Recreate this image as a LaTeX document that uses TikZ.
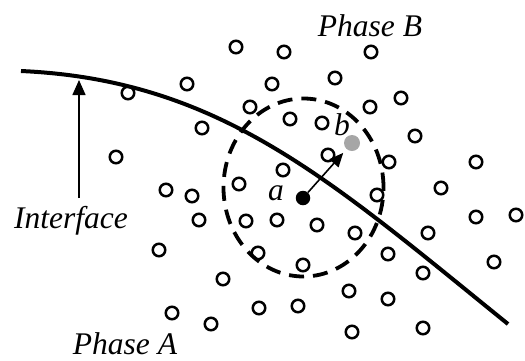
\documentclass[tikz,border=0pt]{standalone}
\usepackage{fontspec}
\setmainfont{Liberation Serif}
\usetikzlibrary{arrows.meta,shapes.geometric}
\begin{document}
\begin{tikzpicture}[x=1pt,y=-1pt,
  mol/.style={circle,draw=black,line width=2.5pt,minimum size=12.5pt,inner sep=0pt},
  lbl/.style={font=\fontsize{31.5}{36}\selectfont\itshape,inner sep=0pt,anchor=base,text depth=0pt},
  iface/.style={line width=4pt},
  probe/.style={dashed,line width=3.8pt,dash pattern=on 15pt off 9pt}]
\useasboundingbox (0,0) rectangle (525,360);
% interface
\coordinate (is) at (21,71);
\coordinate (ie) at (508,324);
\draw[iface] (is) .. controls (220,80) and (330,180) .. (ie);
% probe sphere
\node[draw,probe,ellipse,minimum width=160pt,minimum height=178pt,inner sep=0pt] (sphere) at (303.5,187.5) {};
% molecules
\foreach \n/\x/\y in {1/236/47,2/284/52,3/371/52,4/272/84,5/335/78,6/187/84,7/128/93,8/401/98,9/370/107,10/250/107,
  11/290/119,12/322/123,13/202/128,14/415/136,15/328/155,16/116/157,17/389/162,18/476/162,19/283/170,20/239/184,
  21/166/190,22/192/196,23/377/195,24/441/188,25/199/220,26/246/221,27/277/220,28/317/225,29/355/233,30/428/233,
  31/476/217,32/516/215,33/159/250,34/258/253,35/388/254,36/303/265,37/423/273,38/494/262,39/223/279,40/349/291,
  41/388/299,42/259/308,43/298/306,44/172/313,45/211/324,46/352/332,47/423/328}
  \node[mol] (c\n) at (\x,\y) {};
% particles a and b
\node[circle,fill=black,minimum size=14.5pt,inner sep=0pt] (pa) at (303,198) {};
\node[circle,fill=black!35,minimum size=16pt,inner sep=0pt] (pb) at (352,143) {};
\draw[line width=1.6pt,-{Triangle[length=14pt,width=12pt]},shorten >=5pt] (pa) -- (pb);
% labels
\node[lbl] (la) at (276,200) {a};
\node[lbl] (lb) at (342,135) {b};
\node[lbl] (phb) at (370,36) {Phase B};
\node[lbl] (pha) at (125,354) {Phase A};
\node[lbl] (lint) at (71,228) {Interface};
\coordinate (itip) at (79,80);
\coordinate (ibase) at (79,198);
\draw[line width=1.5pt,-{Triangle[length=15pt,width=13pt]}] (ibase) -- (itip);
\end{tikzpicture}
\end{document}
